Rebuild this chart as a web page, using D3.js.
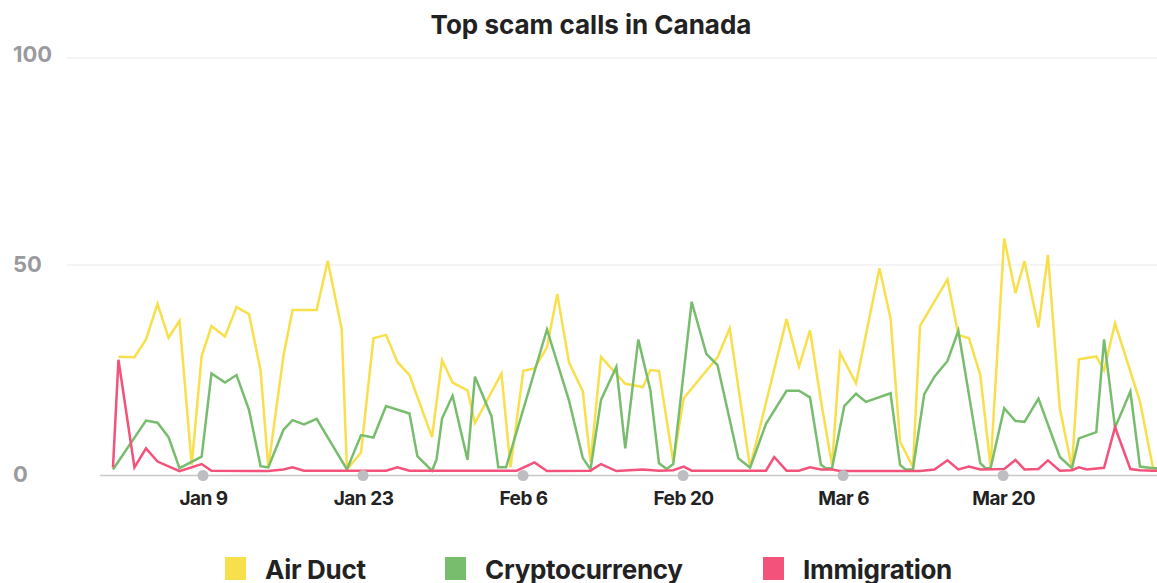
<!DOCTYPE html>
<html>
<head>
<meta charset="utf-8">
<script src="https://cdn.jsdelivr.net/npm/d3@7"></script>
<style>
  body { margin: 0; background: #fff; }
  svg { display: block; font-family: Inter, "Noto Sans", sans-serif; }
</style>
</head>
<body>
<svg id="chart" width="1157" height="583"></svg>
<script>
// series shown in the legend, in order
const seriesNames = ["Air Duct", "Cryptocurrency", "Immigration"];
const seriesColors = ["#f8df4c", "#78bd6e", "#f3527a"];

// time of each reading, in days after Jan 1 (UTC). Readings are not evenly spaced.
const dayOffsets = [
  0.12, 0.60, 2.00, 3.01, 4.02, 4.98, 5.94, 7.01, 7.88, 8.74,
  9.92, 10.93, 12.02, 13.03, 13.71, 15.04, 15.83, 16.83, 17.94, 18.91,
  20.13, 20.59, 21.82, 22.91, 24.01, 25.01, 26.06, 26.75, 28.03, 28.43,
  28.91, 29.83, 31.14, 31.79, 33.24, 33.83, 34.11, 34.51, 34.90, 35.44,
  36.02, 37.00, 38.09, 38.99, 40.02, 41.22, 41.90, 42.82, 44.16, 44.94,
  46.08, 46.49, 47.13, 47.89, 48.57, 49.14, 50.05, 50.75, 52.03, 53.01,
  54.08, 54.83, 55.86, 57.25, 57.97, 59.05, 60.14, 61.10, 62.06, 62.50,
  63.03, 63.73, 64.10, 65.13, 66.00, 67.18, 68.15, 68.98, 69.46, 70.11,
  70.73, 71.09, 71.99, 73.13, 74.08, 75.01, 76.00, 76.46, 76.90, 78.09,
  79.08, 79.87, 81.09, 81.92, 82.96, 84.02, 84.63, 85.32, 86.15, 86.83,
  87.79, 89.13, 89.97, 91.11, 91.50
];

// null = no reading visible for that series at that time
const airDuct = [
  null, 27.7, 27.6, 31.9, 40.5, 32.3, 36.4, 1.6, 27.9, 35.1,
  32.6, 39.7, 38.0, 24.5, 1.0, 28.0, 39.0, null, 39.0, 50.9,
  34.4, 0.5, 4.6, 32.2, 33.0, 26.4, 23.3, null, 8.3, null,
  26.9, 21.5, 19.6, 11.7, null, null, 23.7, null, 1.0, null,
  24.3, 24.9, 30.0, 42.9, 26.3, 19.4, 2.2, 27.7, null, 21.2,
  null, 20.4, 24.5, 24.3, null, 2.3, 17.7, null, null, 27.6,
  34.6, null, 1.0, null, null, 36.8, 25.3, 34.1, 17.1, null,
  1.6, 28.7, null, 21.3, null, 49.1, 37.0, 7.2, null, 1.1,
  35.2, null, null, 46.4, 33.0, 32.2, 23.3, null, 1.1, 56.3,
  43.1, 50.8, 34.8, 52.3, 15.2, 0.9, 27.1, null, 27.8, 24.4,
  35.8, null, 16.9, 0.9, 0.8
];
const cryptocurrency = [
  0.5, null, null, 12.3, 11.8, 8.3, 0.8, null, 3.6, 23.7,
  21.5, 23.3, 14.9, 1.3, 1.0, 10.1, 12.4, 11.4, 12.7, null,
  null, 0.5, 8.8, 8.2, 15.8, null, 14.0, 3.7, 0.2, 2.9,
  12.8, 18.3, 2.8, 22.9, 13.3, 1.0, null, 1.0, null, null,
  null, null, 34.3, null, 17.1, 3.3, 0.5, 17.3, 25.3, 5.6,
  31.9, null, 19.7, 2.0, 0.6, 1.8, null, 41.0, 28.4, 25.7,
  null, 3.2, 0.9, 11.5, null, 19.5, 19.5, 17.9, 1.6, 0.8,
  0.8, null, 15.8, 18.8, 16.8, null, 18.9, 1.6, 0.5, 0.5,
  null, 18.6, 22.9, 26.7, 34.0, null, 2.0, 0.8, 0.8, 15.3,
  12.2, 12.0, 17.6, null, 3.5, 0.8, 8.0, null, 9.5, 31.9,
  10.6, 19.3, 1.2, 0.8, 0.8
];
const immigration = [
  1.0, 27.0, 1.0, 5.6, 2.4, null, 0.1, null, 1.8, 0.2,
  null, null, null, null, 0.1, 0.5, 1.0, 0.2, null, null,
  null, null, null, null, 0.2, 1.0, 0.2, null, null, null,
  null, null, null, null, null, null, null, null, null, 0.2,
  null, 2.2, 0.1, null, null, null, 0.2, 1.8, 0.1, null,
  null, 0.5, null, 0.2, null, 0.3, 1.2, 0.2, null, null,
  null, null, 0.2, 0.2, 3.5, 0.2, 0.2, 1.0, 0.5, null,
  0.5, 0.1, null, null, null, null, null, null, null, null,
  0.1, null, 0.5, 2.7, 0.5, 1.2, 0.5, null, null, 0.6,
  2.8, 0.5, 0.6, 2.7, 0.2, 0.3, 1.0, 0.5, null, 0.9,
  10.7, 0.6, 0.3, 0.2, 0.2
];

const yTicks = [0, 50, 100];
const xTickDates = ["2023-01-09", "2023-01-23", "2023-02-06", "2023-02-20", "2023-03-06", "2023-03-20"];
const xTickLabels = ["Jan 9", "Jan 23", "Feb 6", "Feb 20", "Mar 6", "Mar 20"];

const W = 1157, H = 583;
const start = Date.UTC(2023, 0, 1);
const toDate = d => new Date(start + d * 864e5);

const svg = d3.select("#chart");

const x = d3.scaleTime()
  .domain([toDate(0), toDate(91.5)])
  .range([111.6, 111.6 + 91.5 * 11.43]);
const y = d3.scaleLinear().domain([0, 100]).range([471.5, 57.5]);
// the value labels sit on an evenly spaced column slightly off the grid
const yLabel = d3.scaleLinear().domain([0, 100]).range([474, 54]);

// title
svg.append("text")
  .attr("x", 591).attr("y", 34)
  .attr("text-anchor", "middle")
  .attr("font-size", 26).attr("font-weight", 700)
  .attr("fill", "#222")
  .text("Top scam calls in Canada");

// y gridlines + labels
const yAxis = svg.append("g")
  .attr("transform", "translate(67,0)")
  .call(d3.axisLeft(y).tickValues(yTicks).tickSize(-(W - 67)).tickFormat(d3.format("d")));
yAxis.select(".domain").remove();
yAxis.selectAll(".tick line").attr("stroke", "#f0f0f0").attr("stroke-width", 1.5)
  .attr("opacity", d => d === 0 ? 0 : 1);
yAxis.selectAll(".tick text")
  .attr("x", -54).attr("text-anchor", "start")
  .attr("y", d => yLabel(d) - y(d))
  .attr("font-size", 22).attr("font-weight", 700)
  .attr("font-family", "Inter, sans-serif")
  .attr("fill", "#9a9a9e");

// baseline
svg.append("line")
  .attr("x1", 100).attr("x2", W)
  .attr("y1", 475.5).attr("y2", 475.5)
  .attr("stroke", "#c8c8c8").attr("stroke-width", 1.5);

// x axis
const tickDates = xTickDates.map(s => new Date(s + "T00:00:00Z"));
const xAxis = svg.append("g")
  .attr("transform", "translate(0,475)")
  .call(d3.axisBottom(x).tickValues(tickDates).tickSize(0).tickPadding(17)
    .tickFormat((d, i) => xTickLabels[i]));
xAxis.select(".domain").remove();
xAxis.selectAll(".tick text")
  .attr("font-size", 19).attr("font-weight", 700)
  .attr("font-family", "Inter, sans-serif")
  .attr("letter-spacing", -0.5)
  .attr("fill", "#222");

// lines
const allSeries = [airDuct, cryptocurrency, immigration];
const line = d3.line()
  .x(d => x(toDate(d.day)))
  .y(d => y(d.v));

allSeries.forEach((vals, k) => {
  const pts = dayOffsets
    .map((day, i) => ({ day: day, v: vals[i] }))
    .filter(p => p.v !== null);
  svg.append("path")
    .datum(pts)
    .attr("fill", "none")
    .attr("stroke", seriesColors[k])
    .attr("stroke-width", 2.5)
    .attr("stroke-linejoin", "miter")
    .attr("d", line);
});

// tick dots on the baseline
svg.append("g").selectAll("circle")
  .data(tickDates).enter()
  .append("circle")
  .attr("cx", d => x(d)).attr("cy", 475.5)
  .attr("r", 5.5)
  .attr("fill", "#bdbdc2");

// legend
const legendX = [225, 445, 763];
const legend = svg.append("g");
seriesNames.forEach((name, k) => {
  legend.append("rect")
    .attr("x", legendX[k]).attr("y", 557)
    .attr("width", 21).attr("height", 23)
    .attr("fill", seriesColors[k]);
  legend.append("text")
    .attr("x", legendX[k] + 40).attr("y", 579)
    .attr("font-size", 26).attr("font-weight", 700)
    .attr("letter-spacing", -0.3)
    .attr("fill", "#222")
    .text(name);
});
</script>
</body>
</html>
